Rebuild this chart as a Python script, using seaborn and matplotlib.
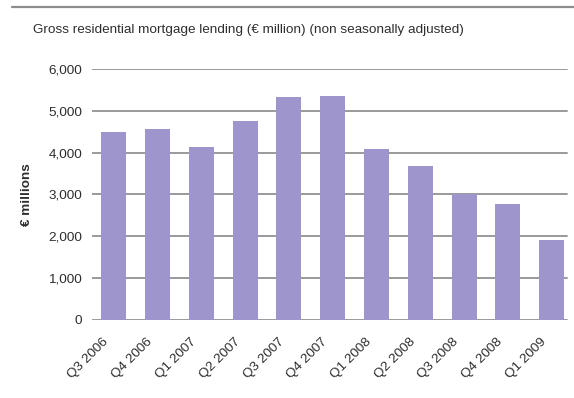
import matplotlib
matplotlib.use("Agg")
import matplotlib.pyplot as plt
from matplotlib.lines import Line2D
from matplotlib.transforms import ScaledTranslation
import seaborn as sns
import pandas as pd

# Quarterly gross residential mortgage lending, EUR million
quarters = ["Q3 2006", "Q4 2006", "Q1 2007", "Q2 2007", "Q3 2007", "Q4 2007",
            "Q1 2008", "Q2 2008", "Q3 2008", "Q4 2008", "Q1 2009"]
lending = [4500, 4560, 4130, 4760, 5340, 5360, 4085, 3675, 3000, 2765, 1920]
y_ticks = [0, 1000, 2000, 3000, 4000, 5000, 6000]
y_tick_labels = ["0", "1,000", "2,000", "3,000", "4,000", "5,000", "6,000"]

title_text = "Gross residential mortgage lending (\u20ac million) (non seasonally adjusted)"
y_title = "\u20ac millions"

sns.set_theme(style="white")
plt.rcParams["font.family"] = ["Liberation Sans", "DejaVu Sans"]

text_color = "#2e2e2e"
bar_color = "#9d95cc"
grid_color = "#9a9a9a"
fs = 9.7

df = pd.DataFrame({"quarter": quarters, "lending": lending})

fig = plt.figure(figsize=(5.74, 3.98), dpi=100)
ax = fig.add_axes([0.1603, 0.196, 0.8387, 0.6307])
ax.set_axisbelow(True)

# horizontal gridlines, stopping a little short of the right edge
for v in y_ticks:
    ax.axhline(v, xmin=0, xmax=0.987, color=grid_color, lw=1.4, zorder=0.5)

sns.barplot(data=df, x="quarter", y="lending", order=quarters, color=bar_color,
            saturation=1, width=0.571, ax=ax)
for p in ax.patches:
    p.set_zorder(10)
    p.set_linewidth(0)

ax.set_ylim(0, 6000)
ax.set_xlim(-0.5, len(quarters) - 0.5)

ax.set_yticks(y_ticks)
ax.set_yticklabels(y_tick_labels, fontsize=fs, color=text_color)
ax.tick_params(axis="y", length=0, pad=7.2)
ax.set_xticks(range(len(quarters)))
ax.set_xticklabels(quarters, rotation=45, ha="right", va="center",
                   rotation_mode="anchor", fontsize=fs, color=text_color)
ax.tick_params(axis="x", length=0, pad=14.5)
shift = ScaledTranslation(-0.07, 0, fig.dpi_scale_trans)
for lbl in ax.get_xticklabels():
    lbl.set_transform(lbl.get_transform() + shift)

ax.set_xlabel("")
ax.set_ylabel(y_title, fontsize=fs, fontweight="bold", color=text_color)
ax.yaxis.set_label_coords(-0.122, 0.5)

for s in ax.spines.values():
    s.set_visible(False)

fig.text(33 / 574, 1 - 30 / 398, title_text, fontsize=fs, color=text_color,
         ha="left", va="center")

# rule across the top of the figure
fig.add_artist(Line2D([12 / 574, 1.0], [1 - 7 / 398, 1 - 7 / 398],
                      transform=fig.transFigure, color="#8c8c8c", lw=1.6))

fig.savefig("out.png", dpi=100, facecolor="white")
